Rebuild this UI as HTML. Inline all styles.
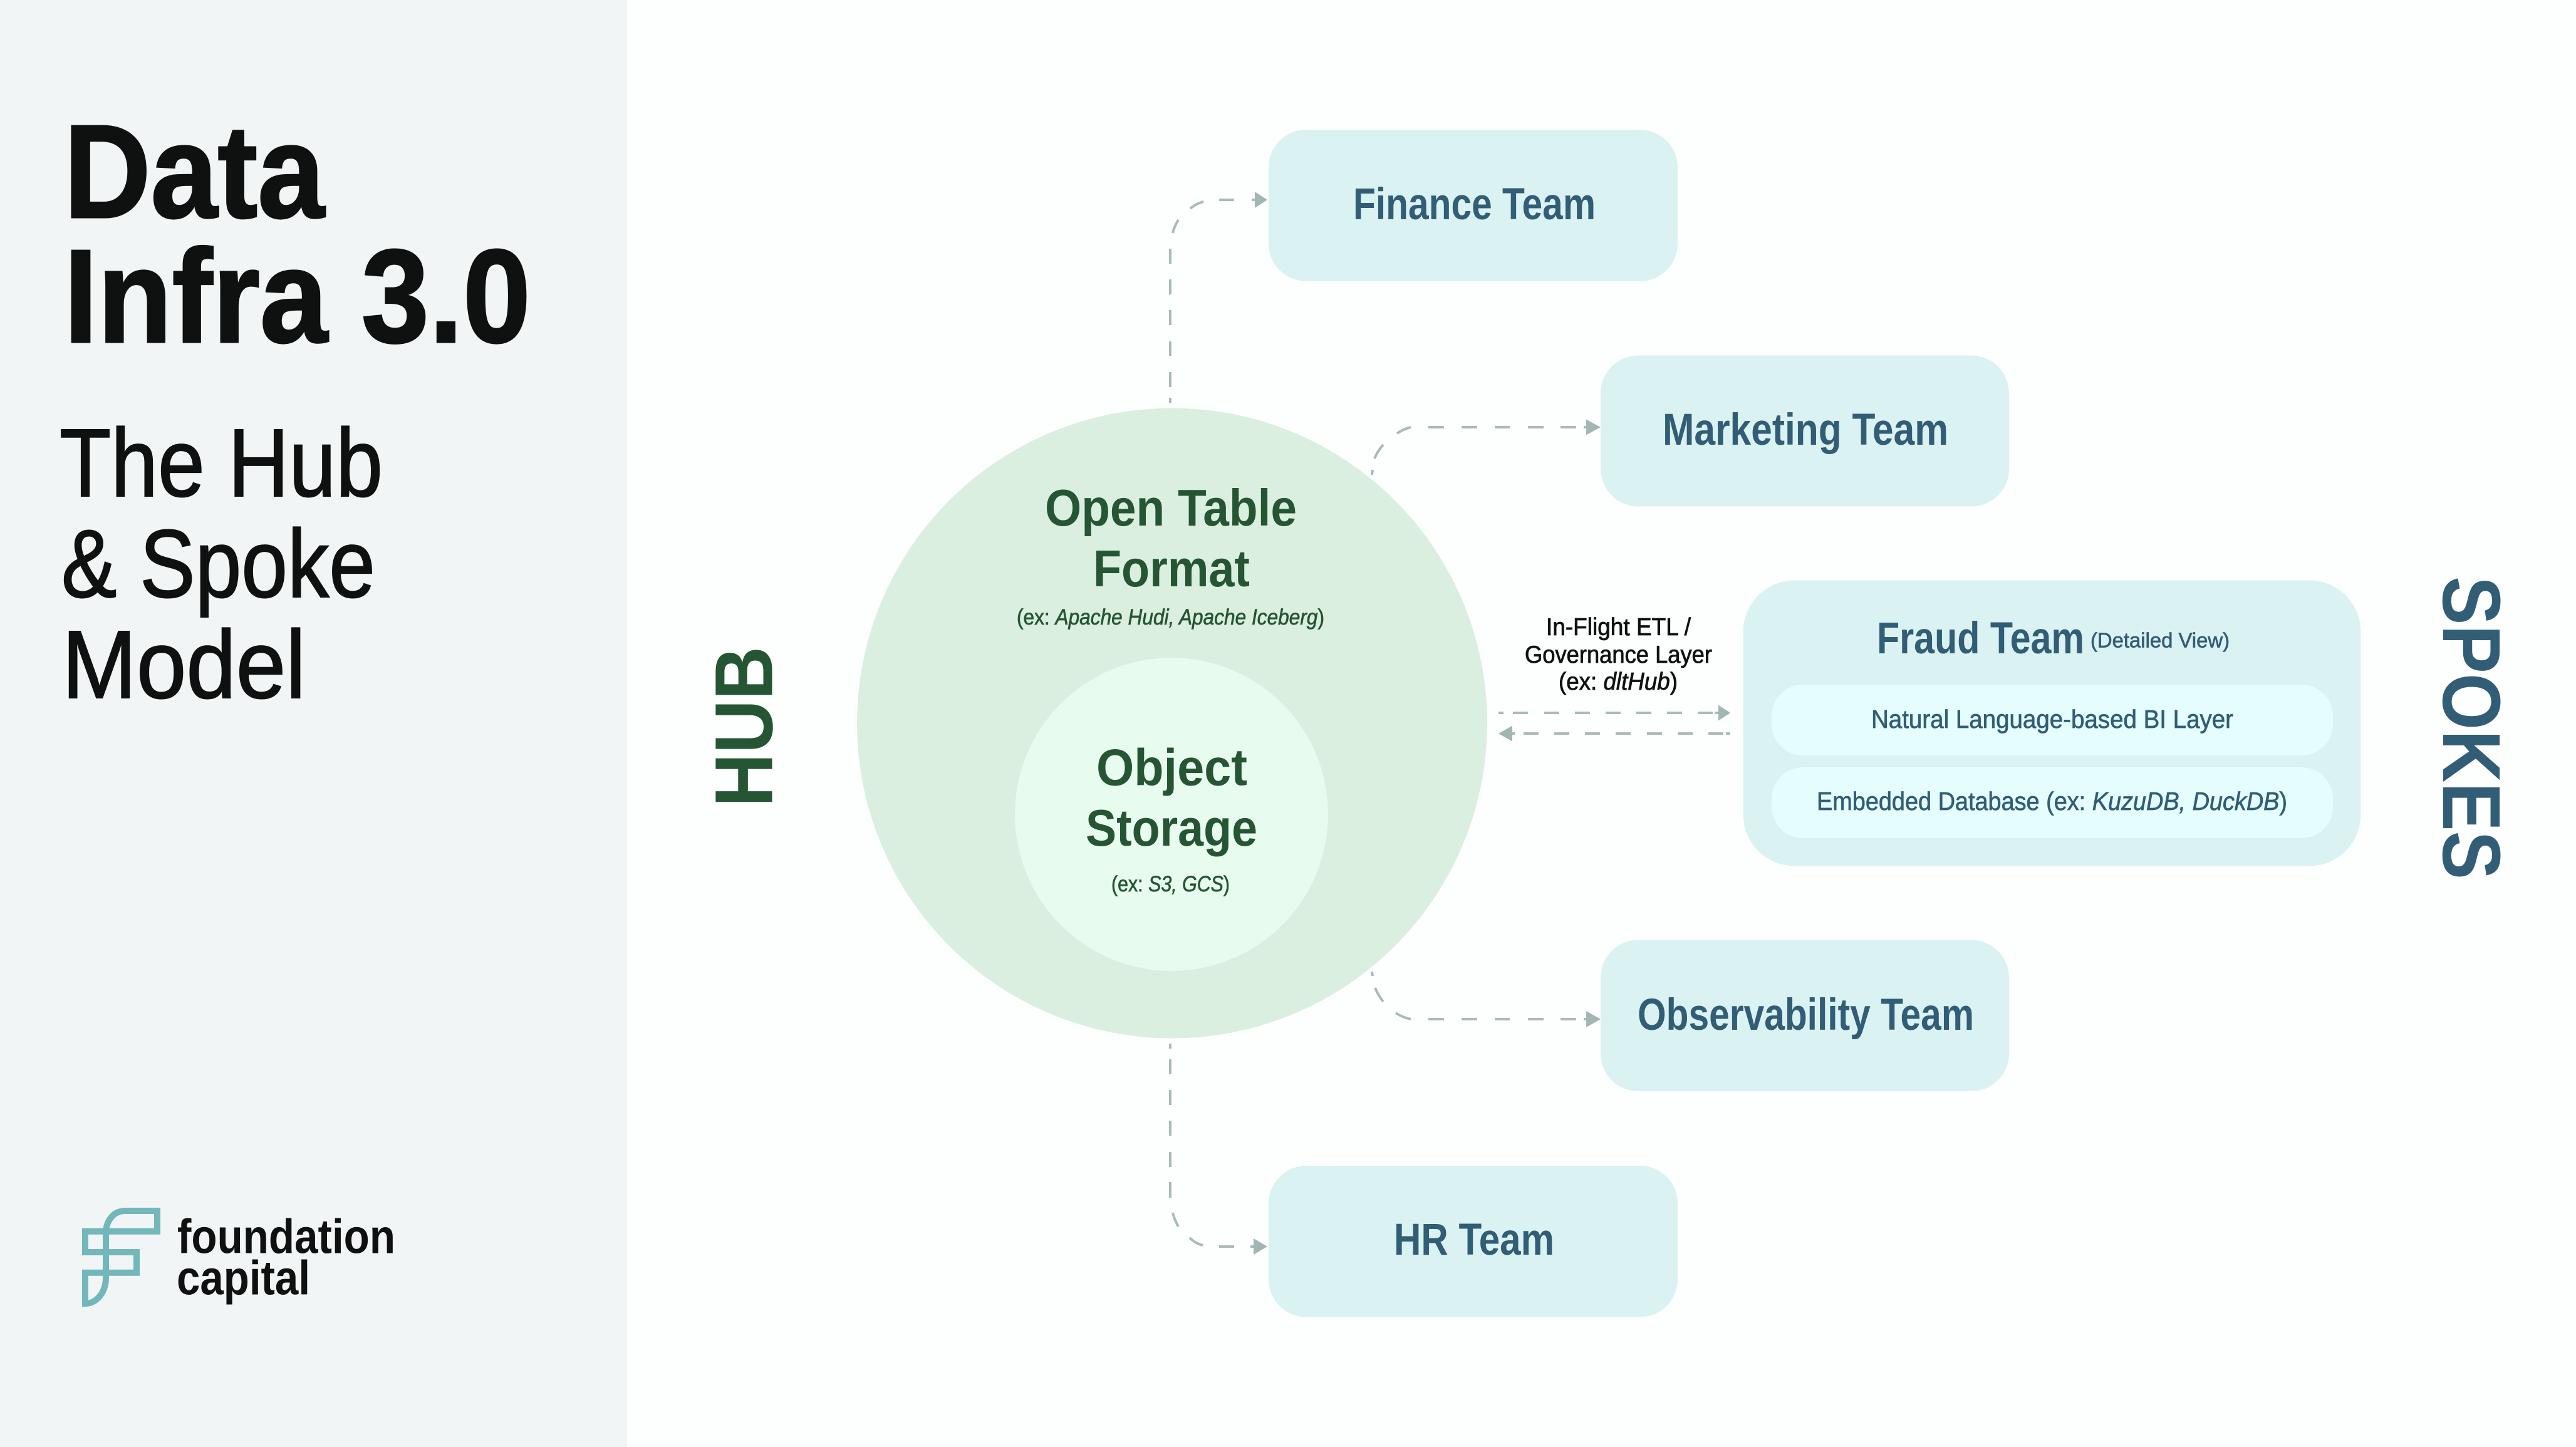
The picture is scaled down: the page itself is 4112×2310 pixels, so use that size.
<!DOCTYPE html>
<html lang="en">
<head>
<meta charset="utf-8">
<title>Data Infra 3.0 - The Hub &amp; Spoke Model</title>
<style>
html,body{margin:0;padding:0;width:4112px;height:2310px;overflow:hidden;background:#fdfffe}
svg{display:block}
text{font-family:"Liberation Sans",sans-serif}
.dash{fill:none;stroke:#a8bbb8;stroke-width:4}
.head{fill:#a2b6b3}
.k{fill:#0f1110}
.g{fill:#265533}
.b{fill:#325d76}
.h1{font-size:212px;font-weight:700;stroke:#0f1110;stroke-width:3px}
.h2{font-size:154px;font-weight:400;stroke:#0f1110;stroke-width:2px}
.logo{font-size:77px;font-weight:700}
.hub{font-size:83px;font-weight:700}
.hubsub{font-size:35px;font-weight:400;stroke:#265533;stroke-width:.7px}
.team{font-size:71px;font-weight:700}
.sub{font-size:41px;font-weight:400;stroke:#325d76;stroke-width:.7px}
.etl{font-size:39px;font-weight:400;stroke:#0f1110;stroke-width:.8px}
.side{font-size:131px;font-weight:700}
</style>
</head>
<body>
<svg width="4112" height="2310" viewBox="0 0 4112 2310" xmlns="http://www.w3.org/2000/svg">
<rect width="4112" height="2310" fill="#fdfffe"/>
<rect width="1001" height="2310" fill="#f1f5f6"/>

<text class="k h1" x="102" y="347" textLength="416" lengthAdjust="spacingAndGlyphs">Data</text>
<text class="k h1" x="102" y="546" textLength="745" lengthAdjust="spacingAndGlyphs">Infra 3.0</text>
<text class="k h2" x="95" y="792" textLength="516" lengthAdjust="spacingAndGlyphs">The Hub</text>
<text class="k h2" x="98" y="953" textLength="501" lengthAdjust="spacingAndGlyphs">&amp; Spoke</text>
<text class="k h2" x="99" y="1114" textLength="389" lengthAdjust="spacingAndGlyphs">Model</text>

<path d="M251 1933H200C180 1933 170 1950 169 1966V2040C169 2062 155 2081 136 2081V2031.7H218V1999H136V1965.7H251Z" fill="none" stroke="#72b7ba" stroke-width="10"/>
<text class="k logo" x="283" y="2000.7" textLength="348" lengthAdjust="spacingAndGlyphs">foundation</text>
<text class="k logo" x="282" y="2066.7" textLength="213" lengthAdjust="spacingAndGlyphs">capital</text>

<circle cx="1871" cy="1154.5" r="503" fill="#daefe0"/>
<circle cx="1870" cy="1300" r="250" fill="#e7fbee"/>
<text class="g hub" x="1668" y="839" textLength="402" lengthAdjust="spacingAndGlyphs">Open Table</text>
<text class="g hub" x="1745" y="936" textLength="250" lengthAdjust="spacingAndGlyphs">Format</text>
<text class="g hubsub" x="1623" y="997" textLength="491" lengthAdjust="spacingAndGlyphs">(ex: <tspan font-style="italic">Apache Hudi, Apache Iceberg</tspan>)</text>
<text class="g hub" x="1750" y="1253.6" textLength="241" lengthAdjust="spacingAndGlyphs">Object</text>
<text class="g hub" x="1733" y="1350" textLength="274" lengthAdjust="spacingAndGlyphs">Storage</text>
<text class="g hubsub" x="1774" y="1423" textLength="189" lengthAdjust="spacingAndGlyphs">(ex: <tspan font-style="italic">S3, GCS</tspan>)</text>

<rect x="2025" y="207" width="653" height="242" rx="60" fill="#dbf2f2"/>
<rect x="2555" y="567.5" width="652" height="241" rx="60" fill="#dbf2f2"/>
<rect x="2782.5" y="926.5" width="986" height="456" rx="82" fill="#dbf2f2"/>
<rect x="2555" y="1500.5" width="652" height="241.5" rx="60" fill="#dbf2f2"/>
<rect x="2025" y="1861" width="653" height="241.5" rx="60" fill="#dbf2f2"/>
<rect x="2828" y="1093" width="896" height="113" rx="50" fill="#e5fefd"/>
<rect x="2828" y="1225" width="896" height="113" rx="50" fill="#e5fefd"/>

<text class="b team" x="2160" y="350" textLength="387" lengthAdjust="spacingAndGlyphs">Finance Team</text>
<text class="b team" x="2654" y="710" textLength="456" lengthAdjust="spacingAndGlyphs">Marketing Team</text>
<text class="b team" x="2614" y="1644" textLength="537" lengthAdjust="spacingAndGlyphs">Observability Team</text>
<text class="b team" x="2225" y="2003" textLength="256" lengthAdjust="spacingAndGlyphs">HR Team</text>
<text class="b team" x="2996" y="1043" textLength="331" lengthAdjust="spacingAndGlyphs">Fraud Team</text>
<text class="b" x="3337" y="1033.5" font-size="33" stroke="#325d76" stroke-width=".7" textLength="222" lengthAdjust="spacingAndGlyphs">(Detailed View)</text>
<text class="b sub" x="2987" y="1162" textLength="578" lengthAdjust="spacingAndGlyphs">Natural Language-based BI Layer</text>
<text class="b sub" x="2900" y="1293" textLength="751" lengthAdjust="spacingAndGlyphs">Embedded Database (ex: <tspan font-style="italic">KuzuDB, DuckDB</tspan>)</text>

<text class="k etl" x="2468" y="1014" textLength="231" lengthAdjust="spacingAndGlyphs">In-Flight ETL /</text>
<text class="k etl" x="2434" y="1058" textLength="299" lengthAdjust="spacingAndGlyphs">Governance Layer</text>
<text class="k etl" x="2488" y="1101" textLength="190" lengthAdjust="spacingAndGlyphs">(ex: <tspan font-style="italic">dltHub</tspan>)</text>

<text class="g side" transform="translate(1232.5 1288) rotate(-90)" textLength="256" lengthAdjust="spacingAndGlyphs">HUB</text>
<text class="b side" transform="translate(3900 920) rotate(90)" textLength="484" lengthAdjust="spacingAndGlyphs">SPOKES</text>

<!-- Finance connector -->
<path class="dash" d="M1868 643V635M1868 618V594M1868 568V545M1868 519V495M1868 470V446M1868 421V397M1872 372Q1875 360 1881 351M1900 333Q1909 325 1921 322M1946 319H1970M1998 319H2003"/>
<polygon class="head" points="2003,306 2023,319 2003,332"/>
<!-- Marketing connector -->
<path class="dash" d="M2190 758L2191 750M2194 732Q2199 720 2208 710M2230 692Q2240 685 2252 682M2280 682H2305M2333 682H2358M2386 682H2410M2439 682H2464M2491 682H2516M2528 682H2532"/>
<polygon class="head" points="2532,669.5 2555,682 2532,694.5"/>
<!-- Observability connector -->
<path class="dash" d="M2190 1551L2191 1558M2195 1577Q2200 1589 2208 1599M2228 1617Q2238 1624 2252 1627M2280 1627H2305M2333 1627H2358M2386 1627H2410M2439 1627H2464M2491 1627H2516M2528 1627H2532"/>
<polygon class="head" points="2532,1614 2555,1627 2532,1640"/>
<!-- HR connector -->
<path class="dash" d="M1868 1666V1674M1868 1691V1715M1868 1740V1764M1868 1789V1813M1868 1839V1863M1868 1887V1912M1872 1936Q1875 1948 1881 1958M1899 1976Q1908 1985 1920 1988M1946 1990H1970M1996 1990H2001"/>
<polygon class="head" points="2001,1977 2023,1990 2001,2003"/>
<!-- In-flight arrows -->
<path class="dash" d="M2392 1138H2400M2415 1138H2439M2465 1138H2489M2514 1138H2538M2563 1138H2587M2612 1138H2636M2661 1138H2685M2710 1138H2734M2737 1138H2743"/>
<polygon class="head" points="2743,1125.5 2762,1138 2743,1150.5"/>
<path class="dash" d="M2414 1171H2418M2432 1171H2456M2481 1171H2505M2530 1171H2554M2579 1171H2603M2629 1171H2653M2678 1171H2702M2727 1171H2751M2755 1171H2762"/>
<polygon class="head" points="2414,1158.5 2392,1171 2414,1183.5"/>
</svg>
</body>
</html>
